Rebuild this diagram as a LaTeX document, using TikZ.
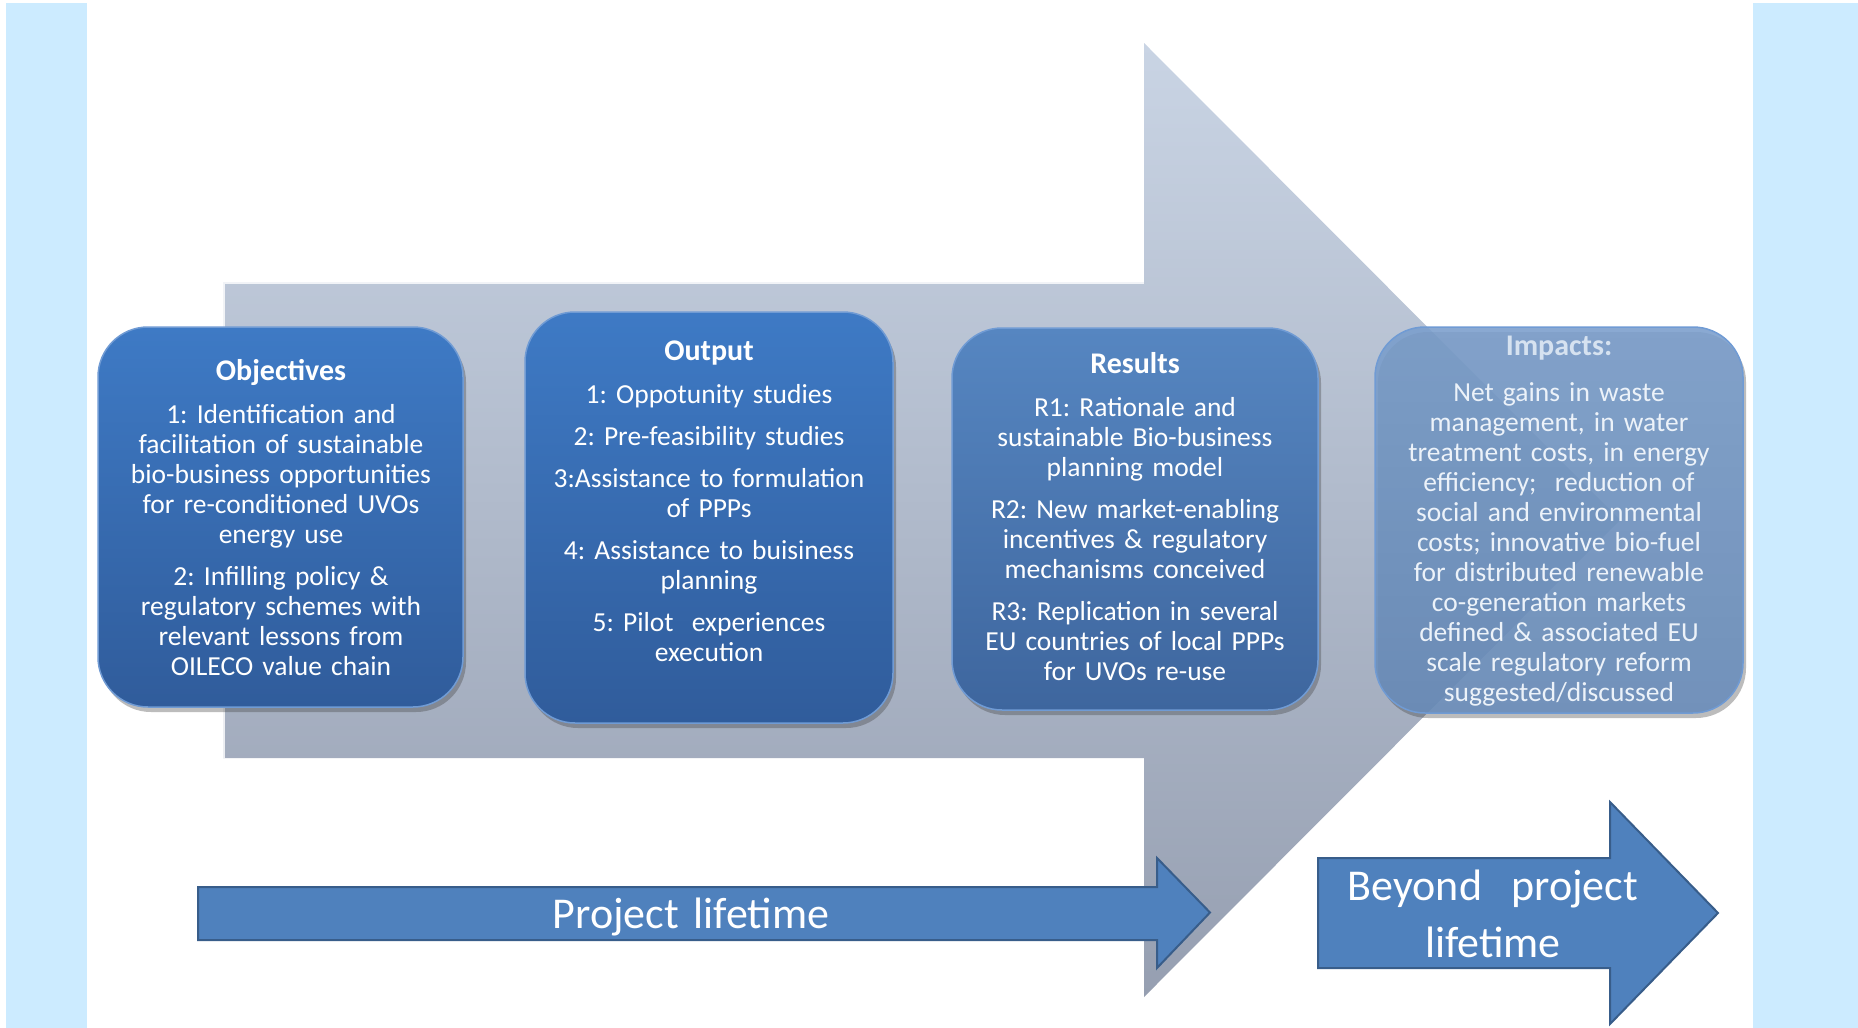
\documentclass[tikz,border=0pt]{standalone}
\usepackage{fontspec}
\setmainfont{Carlito}
\frenchspacing
\usetikzlibrary{shadows}
\definecolor{bandblue}{RGB}{204,235,255}
\definecolor{arrowblue}{RGB}{79,129,189}
\definecolor{arrowedge}{RGB}{56,93,138}
\definecolor{graytop}{RGB}{201,212,228}
\definecolor{graymid}{RGB}{180,190,207}
\definecolor{graybot}{RGB}{150,159,177}
\definecolor{boxtop}{RGB}{62,122,197}
\definecolor{boxbot}{RGB}{48,92,155}
\definecolor{restop}{RGB}{86,134,193}
\definecolor{resbot}{RGB}{62,102,158}
\definecolor{imptop}{RGB}{122,158,204}
\definecolor{impbot}{RGB}{104,140,186}
\definecolor{boxrim}{RGB}{112,155,212}
\tikzset{
  pbox/.style={rectangle, rounded corners=50pt, inner sep=0pt, outer sep=0pt,
    draw=boxrim, line width=1.5pt,
    drop shadow={shadow xshift=3pt, shadow yshift=-5pt, opacity=0.35, fill=black!75}},
  btxt/.style={text=white, text width=362pt, align=center, anchor=base, inner sep=0pt,
    font=\fontsize{27.5pt}{30pt}\selectfont},
  bigarrow/.style={fill=arrowblue, draw=arrowedge, line width=2pt, line join=miter},
  atxt/.style={text=white, text width=400pt, align=center, anchor=base, inner sep=0pt,
    font=\fontsize{44pt}{57pt}\selectfont}
}
\newcommand{\ttl}[1]{{\fontsize{30pt}{30pt}\selectfont\bfseries #1}}
\begin{document}
\begin{tikzpicture}[x=1pt,y=-1pt]
\useasboundingbox (0,0) rectangle (1858,1028);
\fill[white] (0,0) rectangle (1858,1028);
\fill[bandblue] (6,3) rectangle (87,1028);
\fill[bandblue] (1753,3) rectangle (1858,1028);

% big gray arrow
\shade[top color=graytop, middle color=graymid, bottom color=graybot]
  (223,282) -- (1144,282) -- (1144,43) -- (1620,520) -- (1144,997) -- (1144,758) -- (223,758) -- cycle;
\draw[white, opacity=0.8, line width=2pt] (224,758) -- (224,283) -- (1144,283);

% boxes
\node[pbox, top color=boxtop, bottom color=boxbot, minimum width=365pt, minimum height=380pt] (objbox) at (280.5,517) {};
\node[pbox, top color=boxtop, bottom color=boxbot, minimum width=368pt, minimum height=411pt] (outbox) at (709,517.5) {};
\node[pbox, top color=restop, bottom color=resbot, minimum width=366pt, minimum height=382pt] (resbox) at (1135,519) {};
\node[pbox, top color=imptop, bottom color=impbot, fill opacity=0.88, minimum width=368pt, minimum height=386pt] (impbox) at (1559,520) {};

\node[btxt] (objtext) at (281,380) {\ttl{Objectives}\\[13pt]
1: Identification and\\ facilitation of sustainable\\ bio-business opportunities\\ for re-conditioned UVOs\\ energy use\\[12pt]
2: Infilling policy \&\\ regulatory schemes with\\ relevant lessons from\\ OILECO value chain};

\node[btxt] (outtext) at (709,360) {\ttl{Output}\\[13pt]
1: Oppotunity studies\\[12pt]
2: Pre-feasibility studies\\[12pt]
3:Assistance to formulation\\ of PPPs\\[12pt]
4: Assistance to buisiness\\ planning\\[12pt]
5: Pilot\ \ experiences\\ execution};

\node[btxt] (restext) at (1135,373) {\ttl{Results}\\[13pt]
R1: Rationale and\\ sustainable Bio-business\\ planning model\\[12pt]
R2: New market-enabling\\ incentives \& regulatory\\ mechanisms conceived\\[12pt]
R3: Replication in several\\ EU countries of local PPPs\\ for UVOs re-use};

\node[btxt, text={rgb,255:red,236;green,242;blue,249}] (imptext) at (1559,355) {{\color[RGB]{214,226,240}\ttl{Impacts:}}\\[16pt]
Net gains in waste\\ management, in water\\ treatment costs, in energy\\ efficiency;\ \ reduction of\\ social and environmental\\ costs; innovative bio-fuel\\ for distributed renewable\\ co-generation markets\\ defined \& associated EU\\ scale regulatory reform\\ suggested/discussed};

% bottom arrows
\draw[bigarrow] (198,887) -- (1157,887) -- (1157,858) -- (1210,912.5) -- (1157,968) -- (1157,940) -- (198,940) -- cycle;
\node[atxt] (plt) at (691,928) {Project lifetime};

\draw[bigarrow] (1318,858) -- (1610,858) -- (1610,802) -- (1718,913) -- (1610,1024) -- (1610,968) -- (1318,968) -- cycle;
\node[atxt] (bpl) at (1493,900) {Beyond\ \ project\\ lifetime};
\end{tikzpicture}
\end{document}
